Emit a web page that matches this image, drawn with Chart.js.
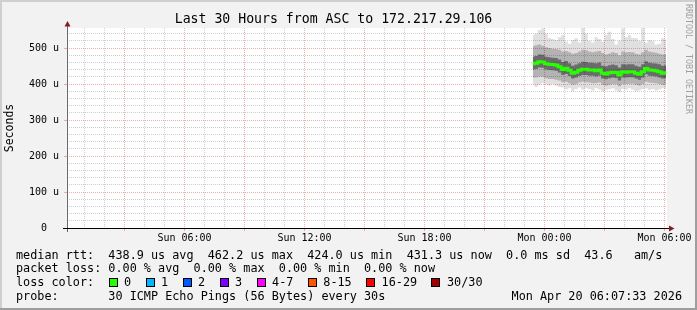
<!DOCTYPE html>
<html>
<head>
<meta charset="utf-8">
<script src="https://cdn.jsdelivr.net/npm/chart.js@4.4.1/dist/chart.umd.min.js"></script>
<style>
html,body{margin:0;padding:0;background:#f2f2f2;}
#wrap{position:relative;width:697px;height:310px;overflow:hidden;background:#f2f2f2;}
#c{position:absolute;left:0;top:0;}
.t{position:absolute;font-family:'DejaVu Sans Mono',monospace;font-size:11.8px;line-height:14px;height:14px;white-space:pre;color:#000;}
.box{position:absolute;box-sizing:border-box;width:9px;height:9px;border:1px solid #000;}
.edge{position:absolute;}
#credit{position:absolute;left:684px;top:4px;font-family:'DejaVu Sans Mono',monospace;font-size:8.3px;line-height:10px;color:#a0a0a0;writing-mode:vertical-rl;white-space:pre;}
</style>
</head>
<body>
<div id="wrap">
<canvas id="c" width="697" height="310"></canvas>
<div id="credit">RRDTOOL / TOBI OETIKER</div>
<div class="t" id="row1" style="left:16px;top:248px;"></div>
<div class="t" id="row2" style="left:16px;top:261px;"></div>
<div class="t" id="row3" style="left:16px;top:275px;"></div>
<div class="t" id="row4" style="left:16px;top:289px;"></div>
<div class="t" id="stamp" style="right:15px;top:289px;"></div>
<div class="edge" style="left:0;top:0;width:697px;height:2px;background:#cfcfcf;"></div>
<div class="edge" style="left:0;top:0;width:2px;height:310px;background:#cfcfcf;"></div>
<div class="edge" style="right:0;top:0;width:2px;height:310px;background:#9e9e9e;"></div>
<div class="edge" style="left:0;bottom:0;width:697px;height:2px;background:#9e9e9e;"></div>
</div>
<script>
// ---- text ----
const titleText = 'Last 30 Hours from ASC to 172.217.29.106';
const yAxisTitle = 'Seconds';
const xTickValues = [360, 720, 1080, 1440, 1800];   // minutes from Sun 00:00
const xTickLabels = ['Sun 06:00', 'Sun 12:00', 'Sun 18:00', 'Mon 00:00', 'Mon 06:00'];
const yTickValues = [0, 100, 200, 300, 400, 500];
const yTickLabels = ['0  ', '100 u', '200 u', '300 u', '400 u', '500 u'];
const statsRow1 = 'median rtt:  438.9 us avg  462.2 us max  424.0 us min  431.3 us now  0.0 ms sd  43.6   am/s';
const statsRow2 = 'packet loss: 0.00 % avg  0.00 % max  0.00 % min  0.00 % now';
const lossTitle = 'loss color:';
const lossLabels = ['0', '1', '2', '3', '4-7', '8-15', '16-29', '30/30'];
const lossColors = ['#26ff00', '#00b8ff', '#0059ff', '#7e00ff', '#ff00ff', '#ff5500', '#ff0000', '#a10000'];
const probeRow = 'probe:       30 ICMP Echo Pings (56 Bytes) every 30s';
const stampText = 'Mon Apr 20 06:07:33 2026';

// ---- data (minutes from Sun 00:00, values in microseconds) ----
const times = [1405,1415,1425,1435,1445,1455,1465,1475,1485,1495,1505,1515,1525,1535,1545,1555,1565,1575,1585,1595,1605,1615,1625,1635,1645,1655,1665,1675,1685,1695,1705,1715,1725,1735,1745,1755,1765,1775,1785,1795,1805];
const rttMedian = [456,458,462,461,456,455,454,453,448,440,444,438,430,433,438,441,441,439,439,437,439,430,428,431,433,432,425,434,433,434,434,430,427,434,443,439,438,437,434,430,431];
const rttMax = [536,540,550,555,540,528,525,522,530,536,518,512,522,527,515,558,540,520,515,530,525,518,536,545,525,510,520,555,530,536,528,527,520,558,515,522,520,510,512,527,524];
const rttMin = [400,392,398,402,398,396,400,395,392,390,385,388,380,386,390,384,388,386,382,388,385,380,384,386,388,382,378,386,384,388,385,380,383,386,388,384,386,382,385,388,386];
const rttHigh = [505,508,510,506,502,500,498,497,495,490,492,488,484,486,490,495,494,490,488,490,492,486,482,485,488,486,480,490,488,489,488,484,482,488,495,490,488,487,484,482,483];
const rttLow = [418,418,420,420,416,414,414,412,410,405,406,402,398,400,404,406,405,404,402,403,404,398,396,398,400,399,394,400,400,401,401,398,396,400,406,404,403,402,400,398,399];
const rttCoreHigh = [476,478,482,481,476,474,473,472,468,461,464,458,451,454,458,462,461,459,459,458,460,451,449,452,454,452,446,455,454,455,455,451,448,455,463,459,458,457,455,451,452];
const rttCoreLow = [440,442,446,445,440,439,438,437,432,425,428,422,415,418,422,425,425,423,423,421,423,415,413,416,418,417,410,418,418,419,419,415,412,418,427,423,422,421,418,415,416];

const xMin = 7.55, xMax = 1807.55;  // 30 hours ending Mon 06:07:33
const yMax = 555.6;

// ---- legend html ----
document.getElementById('row1').textContent = statsRow1;
document.getElementById('row2').textContent = statsRow2;
document.getElementById('row4').textContent = probeRow;
document.getElementById('stamp').textContent = stampText;
(function(){
  const row = document.getElementById('row3');
  const t = document.createElement('span');
  t.textContent = lossTitle;
  row.appendChild(t);
  const cw = 7.1;
  let x = 92.5; // relative to row left (16)
  lossLabels.forEach((lab, i) => {
    const b = document.createElement('div');
    b.className = 'box';
    b.style.left = x + 'px';
    b.style.top = '3px';
    b.style.background = lossColors[i];
    row.appendChild(b);
    const s = document.createElement('div');
    s.className = 't';
    s.style.left = (x + 15.6) + 'px';
    s.style.top = '0px';
    s.textContent = lab;
    row.appendChild(s);
    x += 37 + (lab.length - 1) * cw;
  });
})();

// ---- chart ----
const GRID = 'rgba(140,140,140,0.42)';
const MGRID = 'rgba(222,79,79,0.45)';
const MONO = 'DejaVu Sans Mono';

const hourTicks = [];
for (let m = 60; m <= 1800; m += 60) hourTicks.push(m);
const yGridTicks = [];
for (let v = 0; v <= 540; v += 20) yGridTicks.push(v);

const pts = arr => arr.map((v, i) => ({x: times[i], y: v}));
const band = (arr, fill, bg, order) => ({
  data: pts(arr), fill: fill, backgroundColor: bg, borderColor: 'transparent', borderWidth: 0,
  pointRadius: 0, stepped: 'middle', tension: 0, order: order
});

const framePlugin = {
  id: 'framePlugin',
  beforeDraw(chart) {
    const {ctx, chartArea: a} = chart;
    ctx.save();
    ctx.fillStyle = '#ffffff';
    ctx.fillRect(a.left, a.top, a.right - a.left, a.bottom - a.top);
    ctx.restore();
  },
  afterDraw(chart) {
    const {ctx, chartArea: a} = chart;
    ctx.save();
    // y axis
    ctx.strokeStyle = '#6a6a6a';
    ctx.lineWidth = 1;
    ctx.beginPath();
    ctx.moveTo(a.left + 0.5, a.top - 2);
    ctx.lineTo(a.left + 0.5, a.bottom + 4);
    ctx.stroke();
    // x axis
    ctx.strokeStyle = '#000000';
    ctx.beginPath();
    ctx.moveTo(a.left - 4, a.bottom + 0.5);
    ctx.lineTo(a.right + 2, a.bottom + 0.5);
    ctx.stroke();
    // arrows
    ctx.fillStyle = '#7f1f1f';
    ctx.beginPath();
    ctx.moveTo(a.left - 2.5, a.top - 1.5);
    ctx.lineTo(a.left + 3.5, a.top - 1.5);
    ctx.lineTo(a.left + 0.5, a.top - 7);
    ctx.closePath();
    ctx.fill();
    ctx.beginPath();
    ctx.moveTo(a.right + 2, a.bottom - 2.5);
    ctx.lineTo(a.right + 2, a.bottom + 3.5);
    ctx.lineTo(a.right + 7.5, a.bottom + 0.5);
    ctx.closePath();
    ctx.fill();
    ctx.restore();
  }
};

new Chart(document.getElementById('c'), {
  type: 'line',
  data: {
    datasets: [
      band(rttMin, false, 'transparent', 7),
      band(rttMax, '-1', 'rgba(0,0,0,0.12)', 6),
      band(rttLow, false, 'transparent', 5),
      band(rttHigh, '-1', 'rgba(0,0,0,0.2)', 4),
      band(rttCoreLow, false, 'transparent', 3),
      band(rttCoreHigh, '-1', 'rgba(0,0,0,0.4)', 2),
      {data: pts(rttMedian), fill: false, borderColor: '#26ff00', borderWidth: 3,
       pointRadius: 0, stepped: 'middle', tension: 0, order: 0}
    ]
  },
  options: {
    responsive: false,
    animation: false,
    events: [],
    layout: {padding: {left: 0, top: 0, right: 30, bottom: 0}},
    plugins: {
      legend: {display: false},
      tooltip: {enabled: false},
      title: {
        display: true, text: titleText, color: '#000',
        font: {family: MONO, size: 13.2, weight: 'normal', lineHeight: '15px'},
        padding: {top: 12.5, bottom: 0.5}
      }
    },
    scales: {
      x: {
        type: 'linear', min: xMin, max: xMax, z: 1,
        afterBuildTicks: s => { s.ticks = hourTicks.map(v => ({value: v})); },
        afterFit: s => { s.height = 82; s.paddingLeft = 0; s.paddingRight = 0; },
        grid: {
          color: c => (c.tick && c.tick.value % 180 === 0) ? MGRID : GRID,
          lineWidth: 1, drawTicks: true, tickLength: 3,
          tickColor: c => (c.tick && c.tick.value % 180 === 0) ? MGRID : 'transparent'
        },
        border: {display: false, dash: [1, 1]},
        ticks: {
          autoSkip: false, maxRotation: 0, minRotation: 0, padding: 1, color: '#000',
          font: {family: MONO, size: 10},
          callback: v => { const i = xTickValues.indexOf(v); return i >= 0 ? xTickLabels[i] : ''; }
        }
      },
      y: {
        min: 0, max: yMax, z: 1,
        afterBuildTicks: s => { s.ticks = yGridTicks.map(v => ({value: v})); },
        afterFit: s => { s.width = 67; s.paddingTop = 0; s.paddingBottom = 0; },
        grid: {
          color: c => (c.tick && c.tick.value % 100 === 0) ? MGRID : GRID,
          lineWidth: 1, drawTicks: true, tickLength: 3,
          tickColor: c => (c.tick && c.tick.value % 100 === 0) ? MGRID : 'transparent'
        },
        border: {display: false, dash: [1, 1]},
        title: {
          display: true, text: yAxisTitle, color: '#000',
          font: {family: MONO, size: 11.5}, padding: {top: 3.4, bottom: 0}
        },
        ticks: {
          autoSkip: false, padding: 5, color: '#000',
          font: {family: MONO, size: 10},
          callback: v => { const i = yTickValues.indexOf(v); return i >= 0 ? yTickLabels[i] : ''; }
        }
      }
    }
  },
  plugins: [framePlugin]
});
</script>
</body>
</html>
